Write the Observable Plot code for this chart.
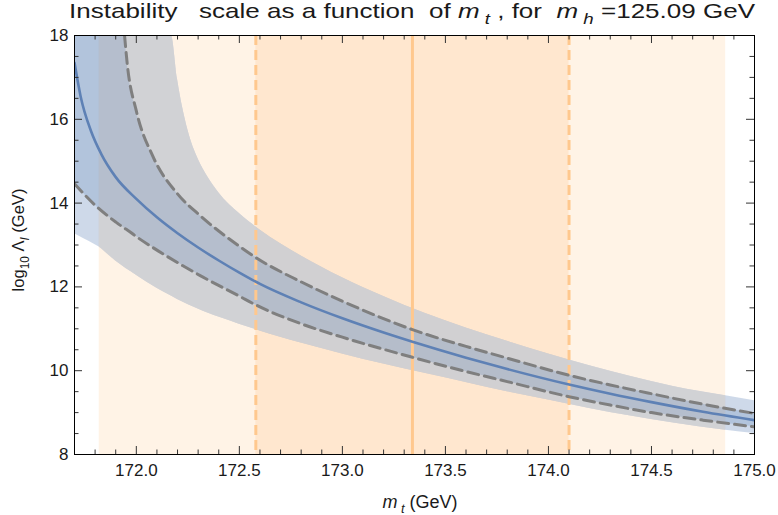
<!DOCTYPE html>
<html><head><meta charset="utf-8">
<script src="https://cdn.jsdelivr.net/npm/d3@7"></script>
<script src="https://cdn.jsdelivr.net/npm/@observablehq/plot@0.6"></script>
<style>body{margin:0;background:#fff} svg{display:block}</style>
</head><body><div id="chart"></div>
<script>
// ---- data ----
const mtCentral = [171.70,171.73,171.78,171.83,171.90,172.00,172.10,172.20,172.30,172.40,172.50,172.60,172.80,173.00,173.20,173.34,173.60,173.80,174.10,174.30,174.50,174.75,175.00];
const logLambdaCentral = [17.35,16.54,15.72,15.17,14.62,14.10,13.66,13.28,12.94,12.63,12.34,12.07,11.63,11.25,10.91,10.69,10.31,10.04,9.67,9.45,9.25,9.02,8.82];

const mtDashed = [171.70,171.80,171.90,171.943,171.956,172.00,172.08,172.20,172.31,172.50,172.58,172.80,173.00,173.34,173.60,173.80,174.10,174.30,174.50,174.75,175.00];
const dashedUpper = [null,null,null,18.0,17.32,16.2,15.12,14.22,13.70,12.97,12.70,12.12,11.66,10.98,10.58,10.30,9.89,9.66,9.45,9.20,8.98];
const dashedLower = [14.46,13.95,13.55,13.40,13.36,13.20,12.94,12.58,12.27,11.78,11.57,11.12,10.80,10.32,9.98,9.74,9.38,9.18,9.00,8.82,8.66];

const mtBand = [171.70,171.75,171.82,171.90,172.00,172.10,172.17,172.20,172.25,172.30,172.35,172.40,172.50,172.60,172.70,172.80,173.00,173.20,173.40,173.60,173.80,174.00,174.20,174.40,174.60,174.86,175.00];
const bandUpper = [18,18,18,18,18,18,18.0,16.95,15.75,15.05,14.6,14.25,13.75,13.36,13.03,12.74,12.22,11.77,11.37,11.02,10.70,10.40,10.12,9.86,9.63,9.40,9.28];
const bandLower = [13.27,13.14,12.95,12.62,12.28,11.97,11.78,11.70,11.58,11.47,11.37,11.28,11.11,10.95,10.80,10.66,10.40,10.16,9.94,9.72,9.50,9.30,9.10,8.92,8.76,8.58,8.50];

const mtTopCentral = 173.34;
const mtTop1Sigma = [172.58, 174.10];
const mtTop2Sigma = [171.82, 174.86];

const xMajor = [172.0,172.5,173.0,173.5,174.0,174.5,175.0];
const xMinor = [171.8,171.9,172.1,172.2,172.3,172.4,172.6,172.7,172.8,172.9,173.1,173.2,173.3,173.4,173.6,173.7,173.8,173.9,174.1,174.2,174.3,174.4,174.6,174.7,174.8,174.9];
const yMajor = [8,10,12,14,16,18];
const yMinor = [8.5,9,9.5,10.5,11,11.5,12.5,13,13.5,14.5,15,15.5,16.5,17,17.5];

// ---- tables ----
const central = mtCentral.map((mt,i)=>({mt, v: logLambdaCentral[i]}));
const dashed = mtDashed.map((mt,i)=>({mt, hi: dashedUpper[i], lo: dashedLower[i]}));
const band = mtBand.map((mt,i)=>({mt, hi: bandUpper[i], lo: bandLower[i]}));
const bandIn = band.filter(d => d.mt >= mtTop2Sigma[0] && d.mt <= mtTop2Sigma[1]);

const W = 778, H = 515, mL = 74, mR = 24, mT = 35, mB = 61;
const iW = W - mL - mR, iH = H - mT - mB;
const majorLen = 8, minorLen = 4.5;
const tickCol = "#333";
const blue = "#5e81b5";
const font = "'Liberation Sans', Arial, sans-serif";

const plot = Plot.plot({
  width: W, height: H,
  marginLeft: mL, marginRight: mR, marginTop: mT, marginBottom: mB,
  x: {domain: [171.7, 175.0], label: null},
  y: {domain: [8, 18], label: null},
  style: {fontFamily: font, fontSize: "17px", color: "#1a1a1a", background: "#fff"},
  marks: [
    Plot.rect([mtTop2Sigma], {x1: d => d[0], x2: d => d[1], fill: "#fff3e6"}),
    Plot.rect([mtTop1Sigma], {x1: d => d[0], x2: d => d[1], fill: "#ffe7cf"}),
    Plot.areaY(band, {x: "mt", y1: "lo", y2: "hi", fill: blue, fillOpacity: 0.3, curve: "monotone-x", clip: true}),
    Plot.areaY(bandIn, {x: "mt", y1: "lo", y2: "hi", fill: "#d2d2d4", fillOpacity: 0.8, curve: "monotone-x", clip: true}),
    Plot.areaY(dashed, {x: "mt", y1: "lo", y2: d => d.hi == null ? 18 : d.hi, fill: blue, fillOpacity: 0.24, curve: "monotone-x", clip: true}),
    Plot.ruleX(mtTop1Sigma, {x: d => d, stroke: "#ffc88e", strokeWidth: 3, strokeDasharray: "10,5"}),
    Plot.ruleX([mtTopCentral], {x: d => d, stroke: "#ffc88e", strokeWidth: 3}),
    Plot.line(dashed.filter(d => d.hi != null), {x: "mt", y: "hi", stroke: "#7f7f7f", strokeWidth: 3, strokeDasharray: "11,6", curve: "monotone-x", clip: true}),
    Plot.line(dashed, {x: "mt", y: "lo", stroke: "#7f7f7f", strokeWidth: 3, strokeDasharray: "11,6", curve: "monotone-x", clip: true}),
    Plot.line(central, {x: "mt", y: "v", stroke: blue, strokeWidth: 2.6, curve: "monotone-x", clip: true}),
    // inward frame ticks
    Plot.tickX(xMajor, {x: d => d, insetTop: iH - majorLen, stroke: tickCol}),
    Plot.tickX(xMinor, {x: d => d, insetTop: iH - minorLen, stroke: tickCol}),
    Plot.tickX(xMajor, {x: d => d, insetBottom: iH - majorLen, stroke: tickCol}),
    Plot.tickX(xMinor, {x: d => d, insetBottom: iH - minorLen, stroke: tickCol}),
    Plot.tickY(yMajor, {y: d => d, insetRight: iW - majorLen, stroke: tickCol}),
    Plot.tickY(yMinor, {y: d => d, insetRight: iW - minorLen, stroke: tickCol}),
    Plot.tickY(yMajor, {y: d => d, insetLeft: iW - majorLen, stroke: tickCol}),
    Plot.tickY(yMinor, {y: d => d, insetLeft: iW - minorLen, stroke: tickCol}),
    Plot.frame({stroke: "#000", strokeWidth: 1}),
    Plot.axisX({ticks: xMajor, tickSize: 0, tickPadding: 9, tickFormat: d3.format(".1f"), fontSize: 17}),
    Plot.axisY({ticks: yMajor, tickSize: 0, tickPadding: 6, tickFormat: d => String(d), fontSize: 17})
  ]
});
document.getElementById("chart").appendChild(plot);

// rich text labels (italics and subscripts)
const svg = d3.select(plot);
function rich(x, y, parts, size, opts = {}) {
  const t = svg.append("text")
    .attr("x", x).attr("y", y)
    .attr("text-anchor", "middle")
    .attr("font-family", font)
    .attr("font-size", size)
    .attr("fill", "#1a1a1a")
    .style("white-space", "pre");
  if (opts.rotate) t.attr("transform", `rotate(-90 ${x} ${y})`);
  if (opts.length) t.attr("textLength", opts.length).attr("lengthAdjust", "spacingAndGlyphs");
  let shifted = 0;
  for (const p of parts) {
    const s = t.append("tspan").text(p.t);
    if (p.it) s.attr("font-style", "italic");
    if (p.sub) { s.attr("dy", size * 0.28 - shifted).attr("font-size", size * 0.72); shifted = size * 0.28; }
    else if (shifted) { s.attr("dy", -shifted); shifted = 0; }
  }
  return t;
}
rich(412, 18, [
  {t: "Instability   scale as a function  of "}, {t: "m", it: 1}, {t: " t", it: 1, sub: 1},
  {t: " , for  "}, {t: "m", it: 1}, {t: " h", it: 1, sub: 1}, {t: " =125.09 GeV"}
], 21, {length: 686});
rich(420, 508, [{t: "m", it: 1}, {t: " t", it: 1, sub: 1}, {t: " (GeV)"}], 18);
rich(24, 240, [{t: "log"}, {t: "10", sub: 1}, {t: " Λ"}, {t: "I", it: 1, sub: 1}, {t: " (GeV)"}], 16.5, {rotate: true});
</script>
</body></html>
